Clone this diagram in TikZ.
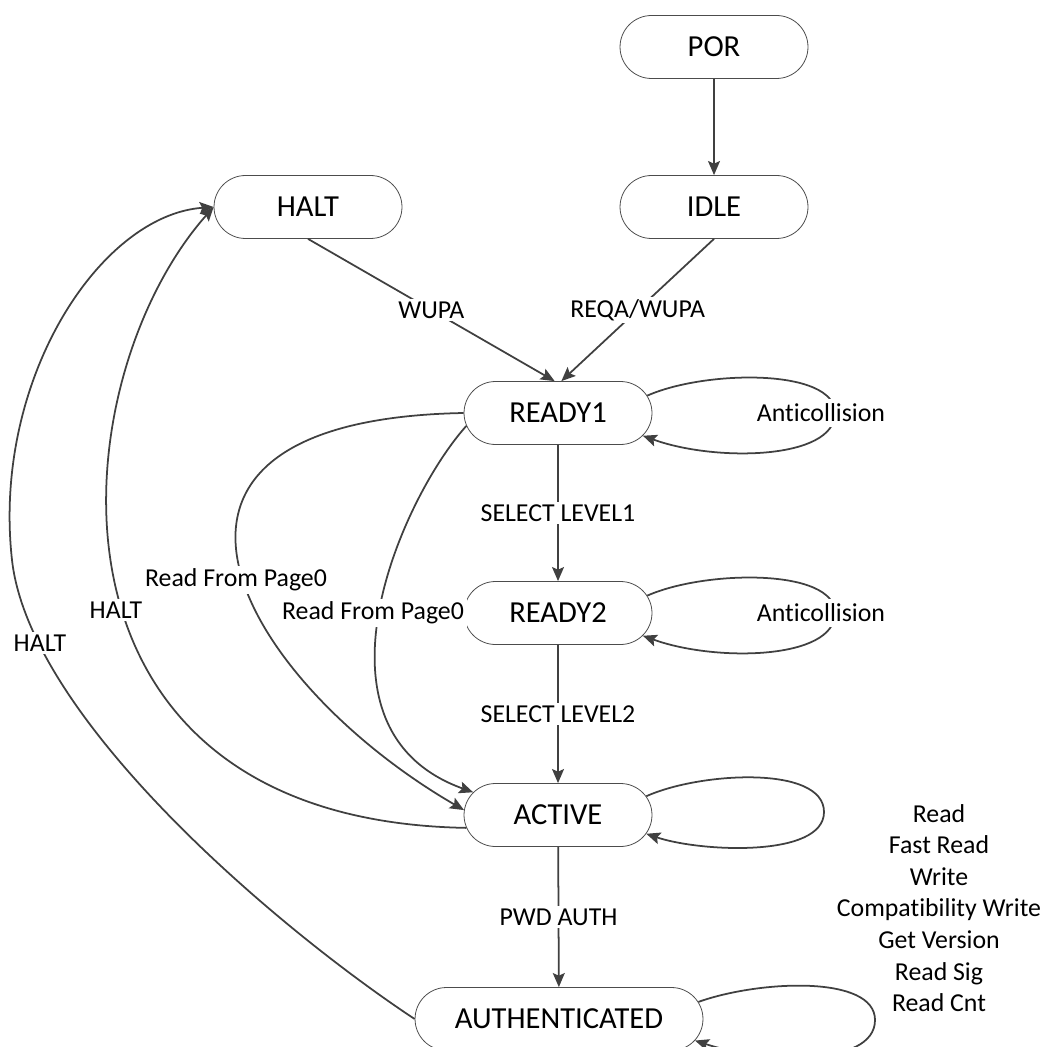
\documentclass[tikz,border=0pt]{standalone}
\usepackage{fontspec}
\setmainfont{Carlito}[Ligatures=CommonOff]
\usetikzlibrary{arrows.meta,shapes.misc}

\begin{document}
\begin{tikzpicture}[x=0.02cm,y=-0.02cm,
  state/.style={rounded rectangle,draw=black!70,line width=0.45pt,fill=white,
    minimum width=3.76cm,minimum height=1.26cm,inner sep=0pt,
    font=\fontsize{17.4}{21}\selectfont},
  edge/.style={line width=1pt,draw=black!75,-{Stealth[length=8pt,width=6.8pt,inset=1.5pt]}},
  lab/.style={fill=white,inner sep=1.5pt,font=\fontsize{14.7}{18}\selectfont}]

\useasboundingbox (0,0) rectangle (1046,1047);

\node[state] (por) at (714,47) {POR};
\node[state] (idle) at (714,207) {IDLE};
\node[state] (halt) at (308,207) {HALT};
\node[state] (r1) at (558,413) {READY1};
\node[state] (r2) at (558,613) {READY2};
\node[state] (act) at (558,815) {ACTIVE};
\node[state, minimum width=5.76cm] (auth) at (559,1019) {AUTHENTICATED};

\draw[edge] (por) to (idle);
\draw[edge] (halt.south) to node[lab]{WUPA} (r1.96);
\draw[edge] (idle.south) to node[lab]{REQA/WUPA} (r1.84);
\draw[edge] (r1) to node[lab]{SELECT LEVEL1} (r2);
\draw[edge] (r2) to node[lab]{SELECT LEVEL2} (act);
\draw[edge] (act) to node[lab]{PWD AUTH} (auth);

\draw[edge] (r1.11) .. controls (705,370) and (835,368) .. (835,413)
  .. controls (835,460) and (715,462) .. (r1.-15);
\draw[edge] (r2.11) .. controls (705,570) and (835,568) .. (835,613)
  .. controls (835,660) and (715,662) .. (r2.-15);
\draw[edge] (act.12) .. controls (700,772) and (824,765) .. (824,812)
  .. controls (824,858) and (700,852) .. (act.-12);
\draw[edge] (auth.7) .. controls (760,980) and (875,975) .. (875,1020)
  .. controls (875,1068) and (760,1062) .. (auth.-9);

\draw[edge] (r1.west) .. controls (90,420) and (240,680) .. (act.177);
\draw[edge] (r1.188) .. controls (400,500) and (300,730) .. (act.165);
\draw[edge] (act.188) .. controls (20,820) and (60,380) .. (halt.west);
\draw[edge] (auth.west) .. controls (280,930) and (30,720) .. (12,560)
  .. controls (-8,380) and (100,215) .. (halt.west);

\node[lab] (rfp1) at (236,580) {Read From Page0};
\node[lab] (rfp2) at (373,613) {Read From Page0};
\node[lab] (halt1) at (116,610) {HALT};
\node[lab] (halt2) at (40,643) {HALT};
\node[lab, inner ysep=3pt] (anti1) at (821,413) {Anticollision};
\node[lab, inner ysep=3pt] (anti2) at (821,613) {Anticollision};

\node[font=\fontsize{14.7}{18}\selectfont, align=center] (cmds) at (939,908) {Read\\Fast Read\\Write\\Compatibility Write\\Get Version\\Read Sig\\Read Cnt};

\end{tikzpicture}
\end{document}
